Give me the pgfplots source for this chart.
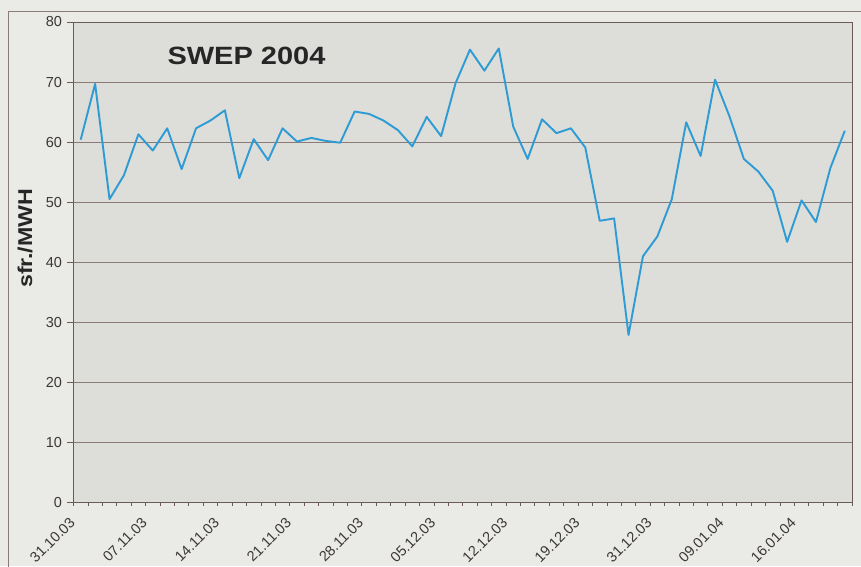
\documentclass[border=0pt]{standalone}
\usepackage{fontspec}
\setmainfont{Liberation Sans}
\newfontfamily\widefont[FakeStretch=1.16]{Liberation Sans}
\usepackage{pgfplots}
\pgfplotsset{compat=1.18}
\definecolor{paper}{RGB}{234,234,231}
\definecolor{plotbg}{RGB}{221,221,218}
\definecolor{gridc}{RGB}{140,122,118}
\definecolor{axisc}{RGB}{105,90,88}
\definecolor{linec}{RGB}{45,155,212}
\definecolor{textc}{RGB}{60,55,55}
\begin{document}
\begin{tikzpicture}
\path[use as bounding box, fill=paper] (-73.5pt,-63.5pt) rectangle (787.5pt,502.5pt);
\draw[gridc, line width=0.8pt] (-65.5pt,-80pt) -- (-65.5pt,491.5pt) -- (800pt,491.5pt);
\begin{axis}[
  at={(0pt,0pt)}, anchor=south west,
  scale only axis, width=778.5pt, height=480.5pt,
  xmin=-0.5, xmax=53.5, ymin=0, ymax=80,
  axis background/.style={fill=plotbg},
  axis line style={axisc, line width=0.8pt},
  ytick={0,10,...,80},
  ymajorgrids, grid style={gridc, line width=0.8pt},
  tick align=outside, major tick length=6pt, minor tick length=3.5pt,
  xtick pos=bottom, ytick pos=left,
  tick style={axisc, line width=0.8pt},
  /pgf/number format/assume math mode=true,
  xtick={0,5,...,50},
  xticklabels={\mbox{31.10.03},\mbox{07.11.03},\mbox{14.11.03},\mbox{21.11.03},\mbox{28.11.03},\mbox{05.12.03},\mbox{12.12.03},\mbox{19.12.03},\mbox{31.12.03},\mbox{09.01.04},\mbox{16.01.04}},
  major x tick style={draw=none},
  minor xtick={-0.5,0.5,...,53.5},
  x tick label style={xshift=-12pt, yshift=-3pt, rotate=45, anchor=north east, font=\fontsize{14.5}{14.5}\selectfont, text=textc},
  y tick label style={font=\fontsize{14.5}{14.5}\selectfont, text=textc, xshift=-2pt},
  ylabel={sfr./MWH},
  ylabel style={at={(axis description cs:-0.0623,0.55)}, anchor=center, font=\widefont\bfseries\fontsize{20}{20}\selectfont, text=black!85},
  clip=false,
]
\addplot[linec, line width=1.9pt, line join=round] coordinates {
(0,60.4) (1,69.7) (2,50.5) (3,54.5) (4,61.3) (5,58.6) (6,62.3) (7,55.5) (8,62.3) (9,63.6)
(10,65.3) (11,54.0) (12,60.5) (13,57.0) (14,62.3) (15,60.1) (16,60.7) (17,60.2) (18,59.9) (19,65.1)
(20,64.7) (21,63.6) (22,62.0) (23,59.3) (24,64.2) (25,61.0) (26,69.8) (27,75.4) (28,71.9) (29,75.6)
(30,62.6) (31,57.2) (32,63.8) (33,61.5) (34,62.3) (35,59.1) (36,46.9) (37,47.3) (38,27.9) (39,41.0)
(40,44.3) (41,50.5) (42,63.3) (43,57.7) (44,70.4) (45,64.3) (46,57.2) (47,55.1) (48,51.9) (49,43.4)
(50,50.3) (51,46.7) (52,55.7) (53,61.9)
};
\node[font=\widefont\bfseries\fontsize{25}{25}\selectfont, text=black!85] at (axis cs:11.5,74.4) {SWEP 2004};
\end{axis}
\end{tikzpicture}
\end{document}
